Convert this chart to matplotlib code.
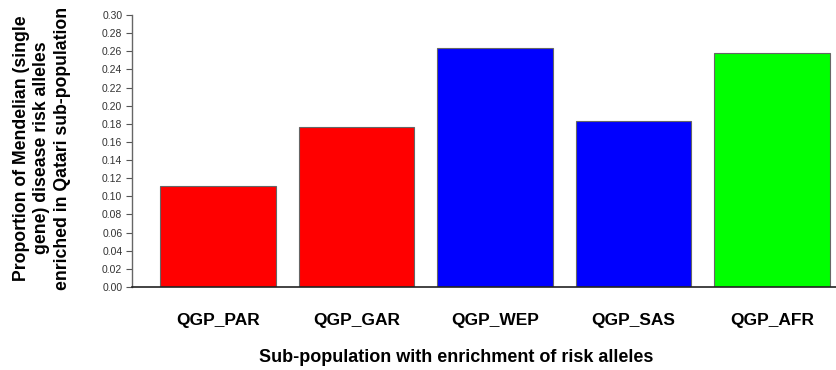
import matplotlib.pyplot as plt
import numpy as np

plt.rcParams['font.family'] = ['Liberation Sans', 'DejaVu Sans']

# data
groups = ['QGP_PAR', 'QGP_GAR', 'QGP_WEP', 'QGP_SAS', 'QGP_AFR']
proportions = [0.111, 0.177, 0.264, 0.183, 0.258]
bar_colors = ['#ff0000', '#ff0000', '#0000ff', '#0000ff', '#00ff00']
yticks = np.arange(0, 0.301, 0.02)

W, H = 837, 370
fig = plt.figure(figsize=(W / 100, H / 100), dpi=100)
# axes placed in pixel terms: left at y-axis line, bottom at zero line
ax = fig.add_axes([132 / W, (H - 287) / H, (W - 132) / W, (287 - 15) / H])

# R barplot style: width 1, space 0.2
x = 0.7 + 1.2 * np.arange(len(groups))
ax.bar(x, proportions, width=1.0, color=bar_colors, edgecolor='#666666', linewidth=0.8, zorder=2)

ax.set_xlim(-0.043, (W - 137) / 115.5)
ax.set_ylim(0, 0.30)

ax.set_yticks(yticks)
ax.set_yticklabels(['%.2f' % v for v in yticks], fontsize=7.5, color='#333333')
ax.tick_params(axis='y', length=4, width=0.8, color='#555555', pad=3)

ax.set_xticks(x)
ax.set_xticklabels(groups, fontsize=12.5, fontweight='bold')
ax.tick_params(axis='x', length=0, pad=19)

ax.spines['top'].set_visible(False)
ax.spines['right'].set_visible(False)
ax.spines['left'].set_color('#666666')
ax.spines['left'].set_linewidth(1.0)
ax.spines['bottom'].set_color('#222222')
ax.spines['bottom'].set_linewidth(1.2)

fig.text(456 / W, 1 - 357 / H, 'Sub-population with enrichment of risk alleles',
         ha='center', va='center', fontsize=13, fontweight='bold')
fig.text(42 / W, 1 - 148 / H,
         'Proportion of Mendelian (single\ngene) disease risk alleles\nenriched in Qatari sub-population',
         ha='center', va='center', rotation=90, fontsize=12.7, fontweight='bold', linespacing=1.25)

fig.savefig('out.png', dpi=100)
